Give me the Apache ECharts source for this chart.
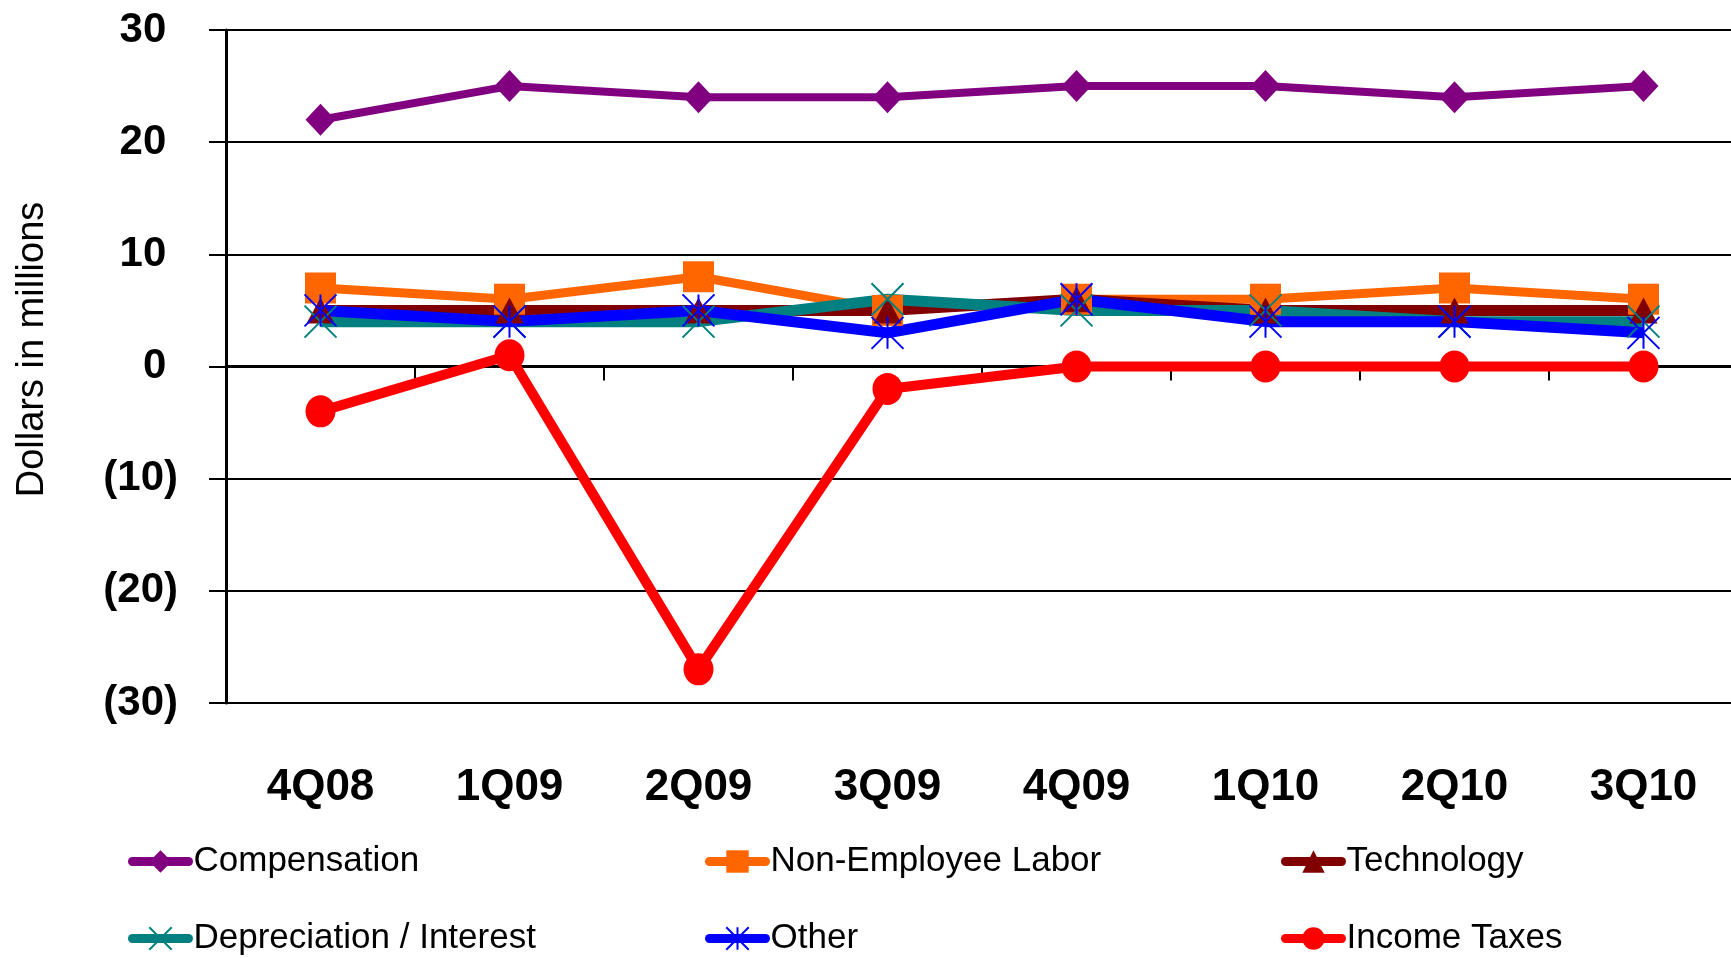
<!DOCTYPE html>
<html>
<head>
<meta charset="utf-8">
<style>
  html, body { margin: 0; padding: 0; background: #fff; }
  #chart { width: 1731px; height: 958px; }
</style>
<script src="https://cdn.jsdelivr.net/npm/echarts@6/dist/echarts.min.js"></script>
</head>
<body>
<div id="chart"></div>
<script>
var quarters = ['4Q08', '1Q09', '2Q09', '3Q09', '4Q09', '1Q10', '2Q10', '3Q10'];

var compensation = [22, 25, 24, 24, 25, 25, 24, 25];
var nonEmployeeLabor = [7, 6, 8, 5, 6, 6, 7, 6];
var technology = [5, 5, 5, 5, 6, 5, 5, 5];
var depreciation = [4, 4, 4, 6, 5, 5, 4, 4];
var other = [5, 4, 5, 3, 6, 4, 4, 3];
var incomeTaxes = [-4, 1, -27, -2, 0, 0, 0, 0];

var font = "'Liberation Sans Narrow', 'Arial Narrow', 'Liberation Sans', sans-serif";

var myChart = echarts.init(document.getElementById('chart'));

// one legend per entry so they sit in fixed columns like the original
function legendAt(name, left, top) {
    return {
        data: [name],
        left: left,
        top: top,
        padding: 0,
        itemWidth: 56,
        itemHeight: 28,
        selectedMode: false,
        lineStyle: { width: 9, cap: 'round' },
        textStyle: { fontFamily: font, fontSize: 35, color: '#000' }
    };
}

function lineSeries(name, data, color, width, symbol, size, markerStyle) {
    return {
        name: name,
        type: 'line',
        data: data,
        xAxisIndex: 0,
        symbol: symbol,
        symbolSize: size,
        showSymbol: true,
        animation: false,
        lineStyle: { color: color, width: width },
        itemStyle: markerStyle || { color: color, borderWidth: 0, opacity: 1 }
    };
}

var option = {
    backgroundColor: '#fff',
    animation: false,
    grid: { left: 226, right: -7, top: 30, bottom: 255, containLabel: false, outerBoundsMode: 'none' },
    legend: [
        legendAt('Compensation', 128, 844),
        legendAt('Non-Employee Labor', 705, 844),
        legendAt('Technology', 1281, 844),
        legendAt('Depreciation / Interest', 128, 921),
        legendAt('Other', 705, 921),
        legendAt('Income Taxes', 1281, 921)
    ],
    xAxis: [
        {
            type: 'category',
            data: quarters,
            axisLine: { onZero: true, lineStyle: { color: '#000', width: 3 } },
            axisTick: { show: true, length: 14, inside: false, lineStyle: { color: '#000', width: 2 } },
            axisLabel: { show: false },
            splitLine: { show: false }
        },
        {
            type: 'category',
            data: quarters,
            position: 'bottom',
            axisLine: { show: false },
            axisTick: { show: false },
            axisLabel: {
                margin: 63,
                fontFamily: font,
                fontWeight: 'bold',
                fontSize: 44,
                color: '#000'
            }
        }
    ],
    yAxis: {
        type: 'value',
        min: -30,
        max: 30,
        interval: 10,
        name: 'Dollars in millions',
        nameLocation: 'middle',
        nameGap: 174,
        nameRotate: 90,
        nameTextStyle: { fontFamily: font, fontSize: 38, color: '#000', padding: [0, 0, 0, 34] },
        axisLine: { show: true, lineStyle: { color: '#000', width: 3 } },
        axisTick: { show: true, length: 17, lineStyle: { color: '#000', width: 2 } },
        axisLabel: {
            margin: 48,
            fontFamily: font,
            fontWeight: 'bold',
            fontSize: 42,
            color: '#000',
            // accounting style: negatives in brackets, positives padded for the bracket
            formatter: function (v) {
                return v < 0 ? '(' + (-v) + ')' : v + ' ';
            }
        },
        splitLine: { show: true, lineStyle: { color: '#000', width: 2 } }
    },
    series: [
        lineSeries('Compensation', compensation, '#800080', 8, 'diamond', [30, 32]),
        lineSeries('Non-Employee Labor', nonEmployeeLabor, '#ff6600', 9, 'rect', [31, 31]),
        lineSeries('Technology', technology, '#800000', 11, 'triangle', [28, 26]),
        lineSeries('Depreciation / Interest', depreciation, '#008080', 11,
            'path://M0,0L10,10M10,0L0,10', [32, 32],
            { color: 'rgba(0,0,0,0)', borderColor: '#008080', borderWidth: 2 }),
        lineSeries('Other', other, '#0000ff', 11,
            'path://M0,0L10,10M10,0L0,10M5,0L5,10', [32, 32],
            { color: 'rgba(0,0,0,0)', borderColor: '#0000ff', borderWidth: 2 }),
        lineSeries('Income Taxes', incomeTaxes, '#ff0000', 10, 'circle', [30, 32])
    ]
};

myChart.setOption(option);
</script>
</body>
</html>
